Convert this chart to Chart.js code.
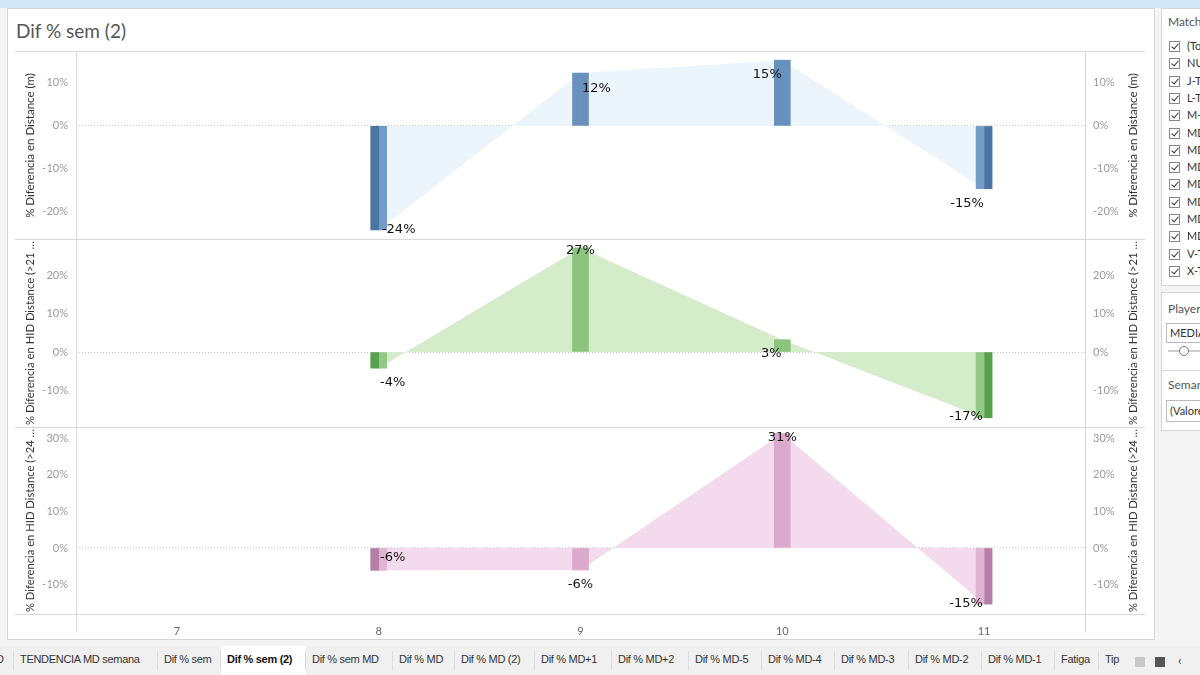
<!DOCTYPE html>
<html>
<head>
<meta charset="utf-8">
<title>Dif % sem (2)</title>
<script src="https://cdn.jsdelivr.net/npm/chart.js@4.4.0/dist/chart.umd.min.js"></script>
<style>
  html, body { margin: 0; padding: 0; }
  body { width: 1200px; height: 675px; position: relative; overflow: hidden; background: #f4f4f4; font-family: Lato, "Open Sans", sans-serif; }
  .topstrip { position: absolute; left: 0; top: 0; width: 1200px; height: 8px; background: #d3e8f8; }
  .view { position: absolute; left: 7px; top: 8px; width: 1148px; height: 632px; background: #fff; border: 1px solid #d6d6d6; box-sizing: border-box; }
  .title { position: absolute; left: 16px; top: 19px; font-size: 19px; color: #555; }
  canvas { position: absolute; }
  .hl { position: absolute; height: 1px; background: #d9d9d9; }
  .vl { position: absolute; width: 1px; background: #d9d9d9; }
  .side { position: absolute; left: 1161px; background: #fff; border: 1px solid #d6d6d6; box-sizing: border-box; width: 60px; overflow: hidden; font-size: 11px; color: #333; }
  .side .hd { position: absolute; left: 6px; color: #555; font-size: 12px; }
  .chk { position: absolute; left: 7px; width: 11px; height: 11px; border: 1px solid #888; background: #fff; box-sizing: border-box; }
  .chk::after { content: ""; position: absolute; left: 3px; top: 0px; width: 3px; height: 6px; border: solid #333; border-width: 0 1.5px 1.5px 0; transform: rotate(40deg); }
  .lbl { position: absolute; left: 25px; font-size: 11px; white-space: nowrap; }
  .tabs { position: absolute; left: 0; top: 646px; width: 1200px; height: 29px; background: #f0f0f0; }
  .tab { position: absolute; top: 7px; font-family: "Liberation Sans", Arial, sans-serif; font-size: 11px; color: #333; white-space: nowrap; letter-spacing: -0.3px; }
  .tab.sel { font-weight: bold; color: #111; }
  .tabsel { position: absolute; top: 0; height: 29px; background: #fff; }
  .sep { position: absolute; top: 5px; width: 1px; height: 19px; background: #dcdcdc; }
</style>
</head>
<body>
<div class="topstrip"></div>
<div class="view"></div>
<div class="title">Dif % sem (2)</div>

<canvas id="chartDist" width="1130" height="187" style="left:15px;top:52px"></canvas>
<canvas id="chartHid21" width="1130" height="188" style="left:15px;top:239px"></canvas>
<canvas id="chartHid24" width="1130" height="209" style="left:15px;top:427px"></canvas>

<div class="hl" style="left:15px;top:51px;width:1130px"></div>
<div class="hl" style="left:15px;top:239px;width:1130px"></div>
<div class="hl" style="left:15px;top:427px;width:1130px"></div>
<div class="hl" style="left:15px;top:614px;width:1130px"></div>
<div class="vl" style="left:76px;top:52px;height:580px"></div>
<div class="vl" style="left:1085px;top:52px;height:580px"></div>

<div class="side" style="top:8px;height:278px" id="matchBox"><div class="hd" style="top:5px">Match</div></div>
<div class="side" style="top:292px;height:94px">
  <div class="hd" style="top:8px">Player</div>
  <div style="position:absolute;left:4px;top:30px;width:60px;height:18px;border:1px solid #bbb;font-size:11px;line-height:18px;padding-left:3px;color:#333">MEDIA</div>
  <div style="position:absolute;left:6px;top:57px;width:40px;height:2px;background:#ccc"></div>
  <div style="position:absolute;left:17px;top:53px;width:8px;height:8px;border:1px solid #777;border-radius:50%;background:#fff"></div>
</div>
<div class="side" style="top:369px;height:62px;border-top:none">
  <div class="hd" style="top:8px">Semana</div>
  <div style="position:absolute;left:4px;top:31px;width:60px;height:20px;border:1px solid #bbb;font-size:11px;line-height:20px;padding-left:3px;color:#333;background:#fff">(Valores</div>
</div>
<div style="position:absolute;left:1161px;top:370px;width:40px;height:1px;background:#d6d6d6"></div>

<div class="tabs" id="tabs"></div>

<script>
// ---- data ----
const weeks = ['7', '8', '9', '10', '11'];
const distDiff = [null, -24.2, 12.3, 15.3, -14.6];
const hid21Diff = [null, -4.2, 27.1, 3.2, -17.1];
const hid24Diff = [null, -6.1, -6.0, 31.2, -15.3];

const distTicks = [-20, -10, 0, 10];
const hid21Ticks = [-10, 0, 10, 20];
const hid24Ticks = [-10, 0, 10, 20, 30];

const matchItems = ['(Todo)', 'NUEVO', 'J-T', 'L-T', 'M-T', 'MD', 'MD', 'MD', 'MD', 'MD', 'MD', 'MD', 'V-T', 'X-T'];
const sheetTabs = ['D', 'TENDENCIA MD semana', 'Dif % sem', 'Dif % sem (2)', 'Dif % sem MD', 'Dif % MD', 'Dif % MD (2)',
  'Dif % MD+1', 'Dif % MD+2', 'Dif % MD-5', 'Dif % MD-4', 'Dif % MD-3', 'Dif % MD-2', 'Dif % MD-1', 'Fatiga', 'Tip'];
const tabLeft = [-4, 20, 164, 227, 312, 399, 461, 541, 618, 695, 768, 841, 915, 988, 1061, 1105];

// ---- side filter + tabs ----
var box = document.getElementById('matchBox');
matchItems.forEach(function(t, i) {
    var y = 32 + i * 17.3;
    var c = document.createElement('div');
    c.className = 'chk';
    c.style.top = y + 'px';
    box.appendChild(c);
    var l = document.createElement('div');
    l.className = 'lbl';
    l.style.top = (y - 2) + 'px';
    l.textContent = t;
    box.appendChild(l);
});

var tabs = document.getElementById('tabs');
sheetTabs.forEach(function(t, i) {
    if (i === 3) {
        var s = document.createElement('div');
        s.className = 'tabsel';
        s.style.left = (tabLeft[i] - 6) + 'px';
        s.style.width = (tabLeft[i + 1] - tabLeft[i]) + 'px';
        tabs.appendChild(s);
    }
    var d = document.createElement('div');
    d.className = 'tab' + (i === 3 ? ' sel' : '');
    d.style.left = tabLeft[i] + 'px';
    d.textContent = t;
    tabs.appendChild(d);
    if (i > 0) {
        var sp = document.createElement('div');
        sp.className = 'sep';
        sp.style.left = (tabLeft[i] - 7) + 'px';
        tabs.appendChild(sp);
    }
});
[[1135, '#c8c8c8'], [1155, '#555']].forEach(function(b) {
    var q = document.createElement('div');
    q.style.cssText = 'position:absolute;top:11px;width:10px;height:10px;left:' + b[0] + 'px;background:' + b[1];
    tabs.appendChild(q);
});
var arrow = document.createElement('div');
arrow.style.cssText = 'position:absolute;top:6px;left:1178px;font-size:13px;color:#444';
arrow.textContent = '‹';
tabs.appendChild(arrow);

// ---- charts ----
// value labels next to each mark + axis titles on both sides (both read bottom to top, like Tableau)
const labelPlugin = {
    id: 'valueLabels',
    afterDatasetsDraw: function(chart) {
        var ctx = chart.ctx;
        var meta = chart.getDatasetMeta(2);
        var opts = chart.options.plugins.valueLabels;
        var area = chart.chartArea;
        ctx.save();
        ctx.font = '13px "DejaVu Sans", sans-serif';
        ctx.fillStyle = '#111';
        ctx.textAlign = 'center';
        ctx.textBaseline = 'middle';
        chart.data.datasets[2].data.forEach(function(v, i) {
            if (v === null) return;
            var p = meta.data[i];
            ctx.fillText(Math.round(v) + '%', p.x + opts.shifts[i][0], p.y + opts.shifts[i][1]);
        });
        ctx.restore();

        ctx.save();
        ctx.font = '11.5px Lato, "Open Sans", sans-serif';
        ctx.fillStyle = '#333';
        ctx.textAlign = 'center';
        ctx.textBaseline = 'middle';
        var cy = (area.top + area.bottom) / 2;
        [area.left - 46, area.right + 48].forEach(function(x) {
            ctx.save();
            ctx.translate(x, cy);
            ctx.rotate(-Math.PI / 2);
            ctx.fillText(opts.title, 0, 0, area.bottom - area.top - 4);
            ctx.restore();
        });
        ctx.restore();
    }
};

function makePanel(id, values, ticks, min, max, title, colors, shifts, showX) {
    var leftColors = values.map(function(v, i) { return i === 1 ? colors.dark : (i === 4 ? colors.light : colors.bar); });
    var rightColors = values.map(function(v, i) { return i === 4 ? colors.dark : (i === 1 ? colors.light : colors.bar); });

    var tickFont = { family: 'Lato, "Open Sans", sans-serif', size: 11 };
    var yAxis = function(pos) {
        return {
            type: 'linear',
            position: pos,
            min: min,
            max: max,
            afterBuildTicks: function(s) { s.ticks = ticks.map(function(v) { return { value: v }; }); },
            afterFit: function(s) { s.width = pos === 'left' ? 61 : 60; s.paddingTop = 0; s.paddingBottom = 0; },
            ticks: { color: '#9a9a9a', font: tickFont, padding: 8, callback: function(v) { return v + '%'; } },
            grid: {
                display: pos === 'left',
                drawTicks: false,
                color: function(c) { return c.tick && c.tick.value === 0 ? '#c9c9c9' : 'rgba(0,0,0,0)'; }
            },
            border: { display: false, dash: [1, 2] }
        };
    };

    return new Chart(document.getElementById(id), {
        type: 'bar',
        data: {
            labels: weeks,
            datasets: [
                { type: 'bar', data: values, backgroundColor: leftColors, barThickness: 8, order: 1, yAxisID: 'y' },
                { type: 'bar', data: values, backgroundColor: rightColors, barThickness: 8, order: 1, yAxisID: 'y' },
                { type: 'line', data: values, backgroundColor: colors.area, borderWidth: 0, borderColor: 'rgba(0,0,0,0)',
                  pointRadius: 0, fill: 'origin', tension: 0, order: 2, yAxisID: 'y' }
            ]
        },
        options: {
            responsive: false,
            animation: false,
            devicePixelRatio: 1,
            layout: { padding: 0 },
            plugins: {
                legend: { display: false },
                tooltip: { enabled: false },
                valueLabels: { shifts: shifts, title: title }
            },
            scales: {
                x: {
                    type: 'category',
                    offset: true,
                    display: showX,
                    grid: { display: false, offset: true },
                    border: { display: false },
                    afterFit: function(s) { s.height = showX ? 22 : 0; s.paddingLeft = 0; s.paddingRight = 0; },
                    ticks: { color: '#666', font: tickFont, padding: 3, maxRotation: 0 }
                },
                y: yAxis('left'),
                y2: yAxis('right')
            }
        },
        plugins: [labelPlugin]
    });
}

makePanel('chartDist', distDiff, distTicks, -26.3, 17.2, '% Diferencia en Distance (m)',
    { bar: '#6892bd', dark: '#4b75a3', light: '#729cc6', area: '#ecf5fb' },
    [[0, 0], [20, 0], [16, 16], [-15, 14], [-17, 15]], false);

makePanel('chartHid21', hid21Diff, hid21Ticks, -19.5, 29.4, '% Diferencia en HID Distance (>21 …',
    { bar: '#8cc47d', dark: '#59a04c', light: '#93c986', area: '#d5ecca' },
    [[0, 0], [14, 14], [0, 3], [-11, 14], [-18, -1]], false);

makePanel('chartHid24', hid24Diff, hid24Ticks, -18.0, 33.0, '% Diferencia en HID Distance (>24 …',
    { bar: '#dba9cc', dark: '#b47ea6', light: '#e0b3d3', area: '#f3daec' },
    [[0, 0], [14, -13], [0, 15], [0, 4], [-18, 0]], true);
</script>
</body>
</html>
